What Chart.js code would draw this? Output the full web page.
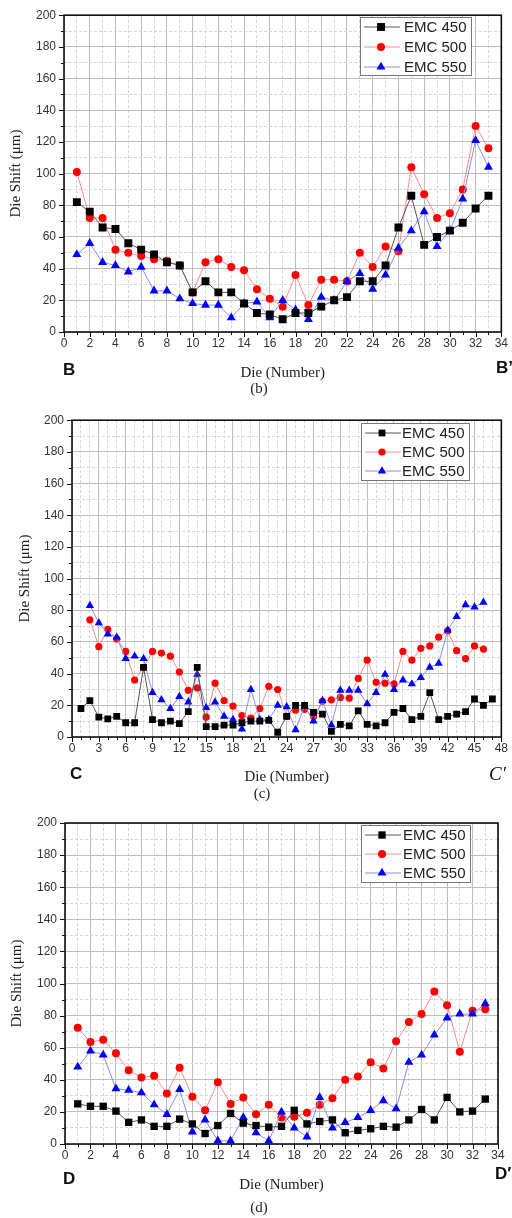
<!DOCTYPE html>
<html>
<head>
<meta charset="utf-8">
<script src="https://cdn.jsdelivr.net/npm/chart.js@4.4.1/dist/chart.umd.min.js"></script>
<style>
  body { margin: 0; background: #fff; }
  #page { position: relative; width: 512px; height: 1218px; overflow: hidden; }
  canvas { position: absolute; left: 0; }
  .lbl { position: absolute; font-family: "Liberation Sans", Arial, sans-serif; font-weight: bold; font-size: 17px; color: #111; line-height: 1; }
  .cap { position: absolute; font-family: "Liberation Serif", "Times New Roman", serif; font-size: 15px; color: #222; line-height: 1; transform: translate(-50%, -50%); }
</style>
</head>
<body>
<div id="page">
  <canvas id="chartB" width="512" height="400" style="top:0px"></canvas>
  <canvas id="chartC" width="512" height="400" style="top:405px"></canvas>
  <canvas id="chartD" width="512" height="413" style="top:805px"></canvas>

  <div class="lbl" style="left:63px;top:361px">B</div>
  <div class="lbl" style="left:496px;top:359px">B’</div>
  <div class="cap" style="left:259px;top:388px">(b)</div>

  <div class="lbl" style="left:70px;top:765px">C</div>
  <div class="lbl" style="left:489px;top:764px;font-family:'Liberation Serif',serif;font-style:italic;font-weight:normal;font-size:19px">C′</div>
  <div class="cap" style="left:262px;top:793px">(c)</div>

  <div class="lbl" style="left:63px;top:1170px">D</div>
  <div class="lbl" style="left:495px;top:1165px">D′</div>
  <div class="cap" style="left:259px;top:1207px">(d)</div>
</div>

<script>
// ---- data ----
const diesB = [1,2,3,4,5,6,7,8,9,10,11,12,13,14,15,16,17,18,19,20,21,22,23,24,25,26,27,28,29,30,31,32,33];
const b450 = [82,76,66,65,56,52,49,44,42,25,32,25,25,18,12,11,8,12,12,16,20,22,32,32,42,66,86,55,60,64,69,78,86];
const b500 = [101,72,72,52,50,48,46,45,42,25,44,46,41,39,27,21,16,36,17,33,33,32,50,41,54,51,104,87,72,75,90,130,116];
const b550 = [49,56,44,42,38,41,26,26,21,18,17,17,9,18,19,9,20,14,8,22,20,32,37,27,36,53,64,76,54,64,84,121,104];

const diesC450 = [1,2,3,4,5,6,7,8,9,10,11,12,13,14,15,16,17,18,19,20,21,22,23,24,25,26,27,28,29,30,31,32,33,34,35,36,37,38,39,40,41,42,43,44,45,46,47];
const diesC = [2,3,4,5,6,7,8,9,10,11,12,13,14,15,16,17,18,19,20,21,22,23,24,25,26,27,28,29,30,31,32,33,34,35,36,37,38,39,40,41,42,43,44,45,46];
const c450 = [18,23,12.5,11.5,13,9,9,44,11,9,10,8.5,16,44,6.5,6.5,7.5,7.5,9,10,10,10.5,3,13,20,20,15.5,14.5,3.5,8,7,16.5,8,7,9,15.5,18,11,13,28,11,13,14.5,16,24,20,24];
const c500 = [74,57,68,62,54,36,44,54,53,51,41,29.5,31,12.5,34,23,19.5,13.5,12,18,32,30,13,17,17.5,13,22.5,23.5,25,24.5,37,48.5,34.5,34,33.5,54,48.5,56,57.5,63,67,54.5,49.5,57.5,55.5];
const c550 = [83,72,65,63,49.5,51,49.5,28,23.5,18,25.5,22,39.5,18.5,22,13,11,5,30,11,11,20,19,4.5,19.5,10,23,7.5,29.5,29.5,29.5,21,28,39.5,30,36,33.5,37.5,44,46.5,67.5,76,83.5,82,85];

const diesD = [1,2,3,4,5,6,7,8,9,10,11,12,13,14,15,16,17,18,19,20,21,22,23,24,25,26,27,28,29,30,31,32,33];
const d450 = [25,23.5,23.5,20.5,13.5,15,11,11,15.5,12.5,6.5,11.5,19,13,11.5,10.5,11,21,12.5,14,15,7,8.5,9.5,11,10.5,15,21.5,15,29,20,20.5,28];
const d500 = [72.5,63.5,65,56.5,46,41.5,42.5,31.5,47.5,29.5,21,38.5,25,29,18.5,24.5,16.5,17,19.5,24.5,28.5,40,42,51,47,64,76,81,95,86.5,57.5,83,84];
const d550 = [48,58,55.5,34.5,33.5,32,24.5,18.5,34,7.5,15,2,2,16.5,7,2,20,10,4.5,29,10,13.5,16.5,21,27,22,51,55.5,68,78.5,81,81,87.5];

const SANS = '"Liberation Sans", Arial, sans-serif';
const SERIF = '"Liberation Serif", "Times New Roman", serif';

function drawMarker(ctx, style, x, y, r, color) {
  ctx.fillStyle = color;
  ctx.beginPath();
  if (style === 'rect') {
    const s = r / Math.SQRT2;
    ctx.rect(x - s, y - s, 2 * s, 2 * s);
  } else if (style === 'triangle') {
    ctx.moveTo(x, y - r);
    ctx.lineTo(x + r * Math.sin(Math.PI / 3), y + r / 2);
    ctx.lineTo(x - r * Math.sin(Math.PI / 3), y + r / 2);
    ctx.closePath();
  } else {
    ctx.arc(x, y, r, 0, Math.PI * 2);
  }
  ctx.fill();
}

// box round the plot + outward tick marks
const framePlugin = {
  id: 'frame',
  beforeDatasetsDraw(chart, args, o) {
    const { ctx, chartArea: a, scales: { x, y } } = chart;
    ctx.save();
    ctx.strokeStyle = '#111';
    ctx.lineWidth = 1;
    ctx.beginPath();
    y.ticks.forEach(t => {
      const py = Math.round(y.getPixelForValue(t.value)) + 0.5;
      const len = t.value % o.yMajor === 0 ? 5 : 3;
      ctx.moveTo(a.left - len, py); ctx.lineTo(a.left, py);
    });
    x.ticks.forEach(t => {
      const px = Math.round(x.getPixelForValue(t.value)) + 0.5;
      const len = t.value % o.xMajor === 0 ? 5 : 3;
      ctx.moveTo(px, a.bottom); ctx.lineTo(px, a.bottom + len);
    });
    ctx.stroke();
    ctx.lineWidth = 1.6;
    ctx.strokeRect(a.left, a.top, a.right - a.left, a.bottom - a.top);
    ctx.restore();
  }
};

// legend in a white box inside the plot, top right
const boxLegend = {
  id: 'boxLegend',
  afterDatasetsDraw(chart, args, o) {
    const { ctx, chartArea: a } = chart;
    const x0 = Math.round(a.right - o.right - o.width), y0 = Math.round(a.top + o.top);
    ctx.save();
    ctx.fillStyle = '#fff';
    ctx.fillRect(x0, y0, o.width, o.height);
    ctx.strokeStyle = '#777';
    ctx.lineWidth = 1;
    ctx.strokeRect(x0 + 0.5, y0 + 0.5, o.width, o.height);
    ctx.font = '15px ' + SANS;
    ctx.textBaseline = 'middle';
    chart.data.datasets.forEach((ds, i) => {
      const yy = y0 + o.first + i * o.gap;
      ctx.strokeStyle = ds.borderColor;
      ctx.beginPath(); ctx.moveTo(x0 + 4, yy); ctx.lineTo(x0 + 40, yy); ctx.stroke();
      drawMarker(ctx, ds.pointStyle, x0 + 21, yy, ds.pointRadius, ds.pointBackgroundColor);
      ctx.fillStyle = '#222';
      ctx.fillText(ds.label, x0 + o.text, yy + 1);
    });
    ctx.restore();
  }
};

function series(label, dies, vals, marker, line, style, r, order) {
  return {
    label,
    data: dies.map((d, i) => ({ x: d, y: vals[i] })),
    borderColor: line,
    borderWidth: 1,
    pointStyle: style,
    pointRadius: r,
    pointBackgroundColor: marker,
    pointBorderColor: marker,
    pointBorderWidth: 0,
    tension: 0,
    order
  };
}

const gridColor = major => c => (c.tick && c.tick.value % major === 0) ? '#bdbdbd' : '#d6d6d6';
const gridDash = major => c => (c.tick && c.tick.value % major !== 0) ? [3, 2] : [];

function buildChart(id, p) {
  new Chart(document.getElementById(id), {
    type: 'line',
    data: {
      datasets: [
        series('EMC 450', p.dies450, p.v450, '#000000', '#555555', 'rect', p.r[0], 1),
        series('EMC 500', p.dies, p.v500, '#ff0000', '#ff8a8a', 'circle', p.r[1], 3),
        series('EMC 550', p.dies, p.v550, '#0000ff', '#8a8aff', 'triangle', p.r[2], 2)
      ]
    },
    options: {
      responsive: false,
      animation: false,
      layout: { padding: p.pad },
      plugins: {
        legend: { display: false },
        tooltip: { enabled: false },
        frame: { xMajor: p.xMajor, yMajor: 20 },
        boxLegend: p.legend
      },
      scales: {
        x: {
          type: 'linear', min: 0, max: p.xMax,
          afterFit: s => { s.height = p.xH; },
          ticks: {
            stepSize: 1, autoSkip: false, maxRotation: 0, padding: 4, color: '#333',
            font: { family: SANS, size: 12 },
            callback: v => v % p.xMajor === 0 ? v : ''
          },
          grid: { drawTicks: false, color: gridColor(p.xMajor), lineWidth: 1 },
          border: { display: false, dash: gridDash(p.xMajor) },
          title: { display: true, text: 'Die (Number)', color: '#222', font: { family: SERIF, size: 15 }, padding: 0 }
        },
        y: {
          min: 0, max: 200,
          afterFit: s => { s.width = p.yW; },
          ticks: {
            stepSize: 10, autoSkip: false, padding: 8, color: '#333',
            font: { family: SANS, size: 12 },
            callback: v => v % 20 === 0 ? v : ''
          },
          grid: { drawTicks: false, color: gridColor(20), lineWidth: 1 },
          border: { display: false, dash: gridDash(20) },
          title: { display: true, text: 'Die Shift (μm)', color: '#222', font: { family: SERIF, size: 15 }, padding: { top: p.yTitlePad, bottom: 0 } }
        }
      }
    },
    plugins: [framePlugin, boxLegend]
  });
}

buildChart('chartB', {
  dies450: diesB, dies: diesB, v450: b450, v500: b500, v550: b550,
  xMax: 34, xMajor: 2, xH: 50, yW: 64, yTitlePad: 7,
  pad: { left: 0, right: 8, top: 11, bottom: 18 },
  r: [5.6, 4, 5.2],
  legend: { right: 30, top: 2, width: 111, height: 58, first: 10, gap: 20, text: 44 }
});

buildChart('chartC', {
  dies450: diesC450, dies: diesC, v450: c450, v500: c500, v550: c550,
  xMax: 48, xMajor: 3, xH: 49, yW: 72, yTitlePad: 16,
  pad: { left: 0, right: 10, top: 15, bottom: 19 },
  r: [4.8, 3.6, 4.8],
  legend: { right: 32, top: 3, width: 108, height: 57, first: 10, gap: 19, text: 41 }
});

buildChart('chartD', {
  dies450: diesD, dies: diesD, v450: d450, v500: d500, v550: d550,
  xMax: 34, xMajor: 2, xH: 50, yW: 65, yTitlePad: 8,
  pad: { left: 0, right: 14, top: 18, bottom: 24 },
  r: [5.2, 4, 5.2],
  legend: { right: 28, top: 2, width: 109, height: 57, first: 10, gap: 19, text: 42 }
});
</script>
</body>
</html>
